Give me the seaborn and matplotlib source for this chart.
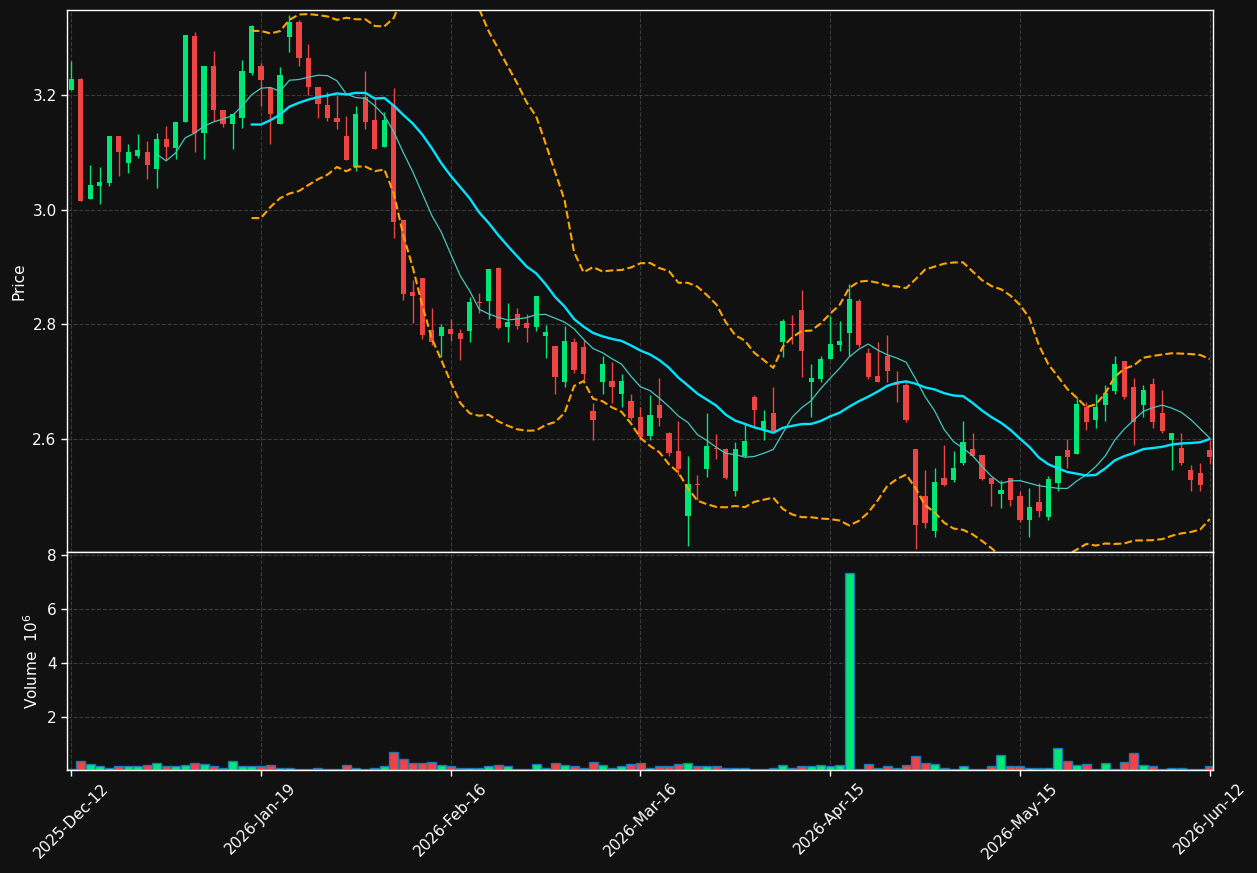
import numpy as np
import pandas as pd
import matplotlib
matplotlib.use('Agg')
import matplotlib.pyplot as plt
import seaborn as sns

# daily candles (price), volume in millions
opens = [3.208, 3.227, 3.019, 3.042, 3.047, 3.129, 3.082, 3.094, 3.101, 3.070,
         3.124, 3.108, 3.152, 3.302, 3.133, 3.251, 3.174, 3.150, 3.159, 3.238,
         3.251, 3.212, 3.150, 3.301, 3.328, 3.265, 3.214, 3.183, 3.160, 3.129,
         3.075, 3.197, 3.157, 3.110, 3.183, 2.982, 2.856, 2.881, 2.790, 2.780,
         2.792, 2.785, 2.789, 2.839, 2.840, 2.898, 2.796, 2.818, 2.803, 2.795,
         2.780, 2.762, 2.700, 2.769, 2.760, 2.649, 2.700, 2.701, 2.679, 2.666,
         2.639, 2.605, 2.660, 2.610, 2.579, 2.465, 2.522, 2.548, 2.584, 2.583,
         2.509, 2.570, 2.674, 2.617, 2.646, 2.770, 2.801, 2.825, 2.700, 2.704,
         2.739, 2.764, 2.784, 2.841, 2.750, 2.710, 2.744, 2.700, 2.695, 2.583,
         2.500, 2.439, 2.532, 2.528, 2.558, 2.583, 2.572, 2.532, 2.504, 2.532,
         2.500, 2.458, 2.490, 2.464, 2.523, 2.580, 2.574, 2.655, 2.634, 2.660,
         2.684, 2.736, 2.690, 2.660, 2.696, 2.645, 2.599, 2.585, 2.546, 2.540,
         2.580]
highs = [3.260, 3.230, 3.078, 3.074, 3.129, 3.129, 3.114, 3.132, 3.120, 3.134,
         3.146, 3.153, 3.304, 3.310, 3.251, 3.277, 3.174, 3.166, 3.261, 3.322,
         3.256, 3.212, 3.249, 3.339, 3.330, 3.288, 3.214, 3.205, 3.199, 3.164,
         3.180, 3.242, 3.193, 3.171, 3.212, 2.982, 2.877, 2.881, 2.828, 2.801,
         2.809, 2.791, 2.848, 2.854, 2.897, 2.900, 2.838, 2.828, 2.818, 2.849,
         2.799, 2.762, 2.797, 2.777, 2.773, 2.662, 2.745, 2.734, 2.713, 2.678,
         2.656, 2.677, 2.706, 2.613, 2.631, 2.570, 2.537, 2.646, 2.609, 2.585,
         2.594, 2.626, 2.677, 2.650, 2.690, 2.810, 2.816, 2.860, 2.731, 2.745,
         2.815, 2.805, 2.870, 2.845, 2.758, 2.770, 2.781, 2.719, 2.700, 2.583,
         2.546, 2.550, 2.590, 2.579, 2.631, 2.610, 2.572, 2.532, 2.529, 2.532,
         2.510, 2.515, 2.524, 2.535, 2.570, 2.600, 2.674, 2.665, 2.679, 2.695,
         2.745, 2.736, 2.706, 2.695, 2.706, 2.685, 2.610, 2.610, 2.555, 2.559,
         2.598]
lows = [3.208, 3.015, 3.019, 3.010, 3.042, 3.059, 3.063, 3.090, 3.054, 3.037,
        3.086, 3.088, 3.152, 3.100, 3.088, 3.154, 3.144, 3.106, 3.143, 3.234,
        3.180, 3.114, 3.150, 3.275, 3.250, 3.199, 3.159, 3.154, 3.141, 3.086,
        3.068, 3.141, 3.105, 3.110, 2.950, 2.842, 2.802, 2.775, 2.764, 2.743,
        2.771, 2.738, 2.770, 2.819, 2.809, 2.791, 2.770, 2.791, 2.770, 2.788,
        2.742, 2.679, 2.691, 2.715, 2.703, 2.599, 2.678, 2.662, 2.655, 2.633,
        2.598, 2.599, 2.623, 2.570, 2.537, 2.413, 2.493, 2.534, 2.565, 2.530,
        2.500, 2.568, 2.621, 2.599, 2.614, 2.743, 2.765, 2.708, 2.639, 2.700,
        2.739, 2.754, 2.745, 2.760, 2.705, 2.700, 2.700, 2.665, 2.630, 2.409,
        2.445, 2.429, 2.518, 2.525, 2.554, 2.568, 2.528, 2.484, 2.480, 2.484,
        2.455, 2.429, 2.464, 2.459, 2.510, 2.550, 2.574, 2.615, 2.620, 2.631,
        2.679, 2.669, 2.590, 2.639, 2.620, 2.610, 2.546, 2.555, 2.509, 2.509,
        2.556]
closes = [3.227, 3.015, 3.043, 3.048, 3.129, 3.100, 3.101, 3.104, 3.077, 3.124,
          3.110, 3.153, 3.304, 3.133, 3.251, 3.173, 3.150, 3.166, 3.241, 3.320,
          3.226, 3.166, 3.235, 3.328, 3.264, 3.213, 3.184, 3.159, 3.152, 3.086,
          3.167, 3.152, 3.105, 3.157, 2.979, 2.853, 2.849, 2.781, 2.770, 2.796,
          2.783, 2.775, 2.839, 2.837, 2.897, 2.794, 2.804, 2.797, 2.794, 2.849,
          2.787, 2.708, 2.771, 2.721, 2.714, 2.633, 2.731, 2.691, 2.701, 2.637,
          2.604, 2.642, 2.637, 2.576, 2.548, 2.521, 2.520, 2.588, 2.582, 2.532,
          2.583, 2.596, 2.650, 2.632, 2.614, 2.806, 2.799, 2.753, 2.706, 2.740,
          2.765, 2.771, 2.845, 2.764, 2.708, 2.700, 2.719, 2.695, 2.633, 2.450,
          2.454, 2.525, 2.520, 2.550, 2.594, 2.571, 2.530, 2.522, 2.511, 2.493,
          2.458, 2.481, 2.474, 2.530, 2.570, 2.569, 2.661, 2.630, 2.655, 2.680,
          2.731, 2.674, 2.630, 2.685, 2.630, 2.614, 2.610, 2.558, 2.528, 2.519,
          2.569]
volumes = [0.10, 0.40, 0.27, 0.21, 0.14, 0.18, 0.21, 0.18, 0.25, 0.30,
           0.18, 0.18, 0.23, 0.30, 0.27, 0.18, 0.14, 0.38, 0.21, 0.21,
           0.19, 0.23, 0.14, 0.14, 0.10, 0.10, 0.14, 0.10, 0.08, 0.23,
           0.14, 0.10, 0.14, 0.18, 0.73, 0.44, 0.29, 0.29, 0.33, 0.22,
           0.18, 0.14, 0.14, 0.14, 0.18, 0.23, 0.18, 0.10, 0.10, 0.27,
           0.14, 0.30, 0.23, 0.18, 0.14, 0.34, 0.23, 0.14, 0.18, 0.27,
           0.30, 0.14, 0.18, 0.18, 0.27, 0.30, 0.18, 0.18, 0.18, 0.14,
           0.14, 0.14, 0.08, 0.10, 0.14, 0.23, 0.14, 0.18, 0.18, 0.23,
           0.18, 0.23, 7.32, 0.10, 0.27, 0.14, 0.18, 0.14, 0.23, 0.56,
           0.30, 0.27, 0.14, 0.10, 0.18, 0.10, 0.10, 0.18, 0.60, 0.18,
           0.18, 0.14, 0.14, 0.14, 0.86, 0.40, 0.23, 0.27, 0.10, 0.30,
           0.10, 0.34, 0.67, 0.23, 0.18, 0.07, 0.14, 0.14, 0.10, 0.10,
           0.18]

tick_pos = [0, 20, 40, 60, 80, 100, 120]
tick_labels = ['2025-Dec-12', '2026-Jan-19', '2026-Feb-16', '2026-Mar-16',
               '2026-Apr-15', '2026-May-15', '2026-Jun-12']

UP = '#00e676'
DOWN = '#ef4444'
BG = '#111111'

df = pd.DataFrame({'open': opens, 'high': highs, 'low': lows,
                   'close': closes, 'volume': volumes})
df['idx'] = np.arange(len(df))
df['up'] = df['close'] >= df['open']
df['ma10'] = df['close'].rolling(10).mean()
df['ma20'] = df['close'].rolling(20).mean()
std20 = df['close'].rolling(20).std(ddof=0)
df['bb_up'] = df['ma20'] + 2 * std20
df['bb_lo'] = df['ma20'] - 2 * std20

sns.set_style('darkgrid', {'axes.facecolor': BG, 'figure.facecolor': BG,
                           'grid.color': '#3a3a3a', 'grid.linestyle': '--',
                           'axes.edgecolor': 'white', 'text.color': 'white',
                           'axes.labelcolor': 'white', 'xtick.color': 'white',
                           'ytick.color': 'white'})
plt.rcParams['font.family'] = ['DejaVu Sans']

fig = plt.figure(figsize=(12.57, 8.73), dpi=100)
ax = fig.add_axes([0.0533, 0.3677, 0.9117, 0.6208])
axv = fig.add_axes([0.0533, 0.118, 0.9117, 0.2497], sharex=ax)

colors = np.where(df['up'], UP, DOWN)

# candles
ax.vlines(df['idx'], df['low'], df['high'], colors=colors, lw=1)
body_lo = np.minimum(df['open'], df['close'])
body_h = np.maximum(np.abs(df['close'] - df['open']), 0.002)
ax.bar(df['idx'], body_h, bottom=body_lo, width=0.55, color=colors, linewidth=0)

# moving averages and bands
sns.lineplot(data=df, x='idx', y='ma10', ax=ax, color='#45c8c0', lw=0.9)
sns.lineplot(data=df, x='idx', y='ma20', ax=ax, color='#00e5ff', lw=1.7)
sns.lineplot(data=df, x='idx', y='bb_up', ax=ax, color='#ffa500', lw=1.5, linestyle='--')
sns.lineplot(data=df, x='idx', y='bb_lo', ax=ax, color='#ffa500', lw=1.5, linestyle='--')

ax.set_xlim(-0.45, 120.35)
ax.set_ylim(2.403, 3.348)
ax.set_yticks([2.6, 2.8, 3.0, 3.2])
ax.set_ylabel('Price', fontsize=11)
ax.set_xlabel('')
ax.tick_params(axis='x', labelbottom=False, length=0)
ax.tick_params(axis='y', left=True, length=4, width=1, labelsize=11)

# volume
axv.bar(df['idx'], df['volume'], width=0.95, color=colors, edgecolor='#1f77b4', linewidth=1)
axv.set_ylim(0.05, 8.1)
axv.set_yticks([2, 4, 6, 8])
axv.set_ylabel('Volume  $10^{6}$', fontsize=11)
axv.set_xticks(tick_pos)
axv.set_xticklabels(tick_labels, rotation=45, fontsize=11)
axv.tick_params(axis='x', bottom=True, length=4, width=1)
axv.tick_params(axis='y', left=True, length=4, width=1, labelsize=11)

for a in (ax, axv):
    a.grid(True, color='#3a3a3a', linestyle='--', lw=0.8)
    for s in a.spines.values():
        s.set_visible(True)
        s.set_color('white')
        s.set_linewidth(1)

fig.savefig('out.png', dpi=100, facecolor=BG)
